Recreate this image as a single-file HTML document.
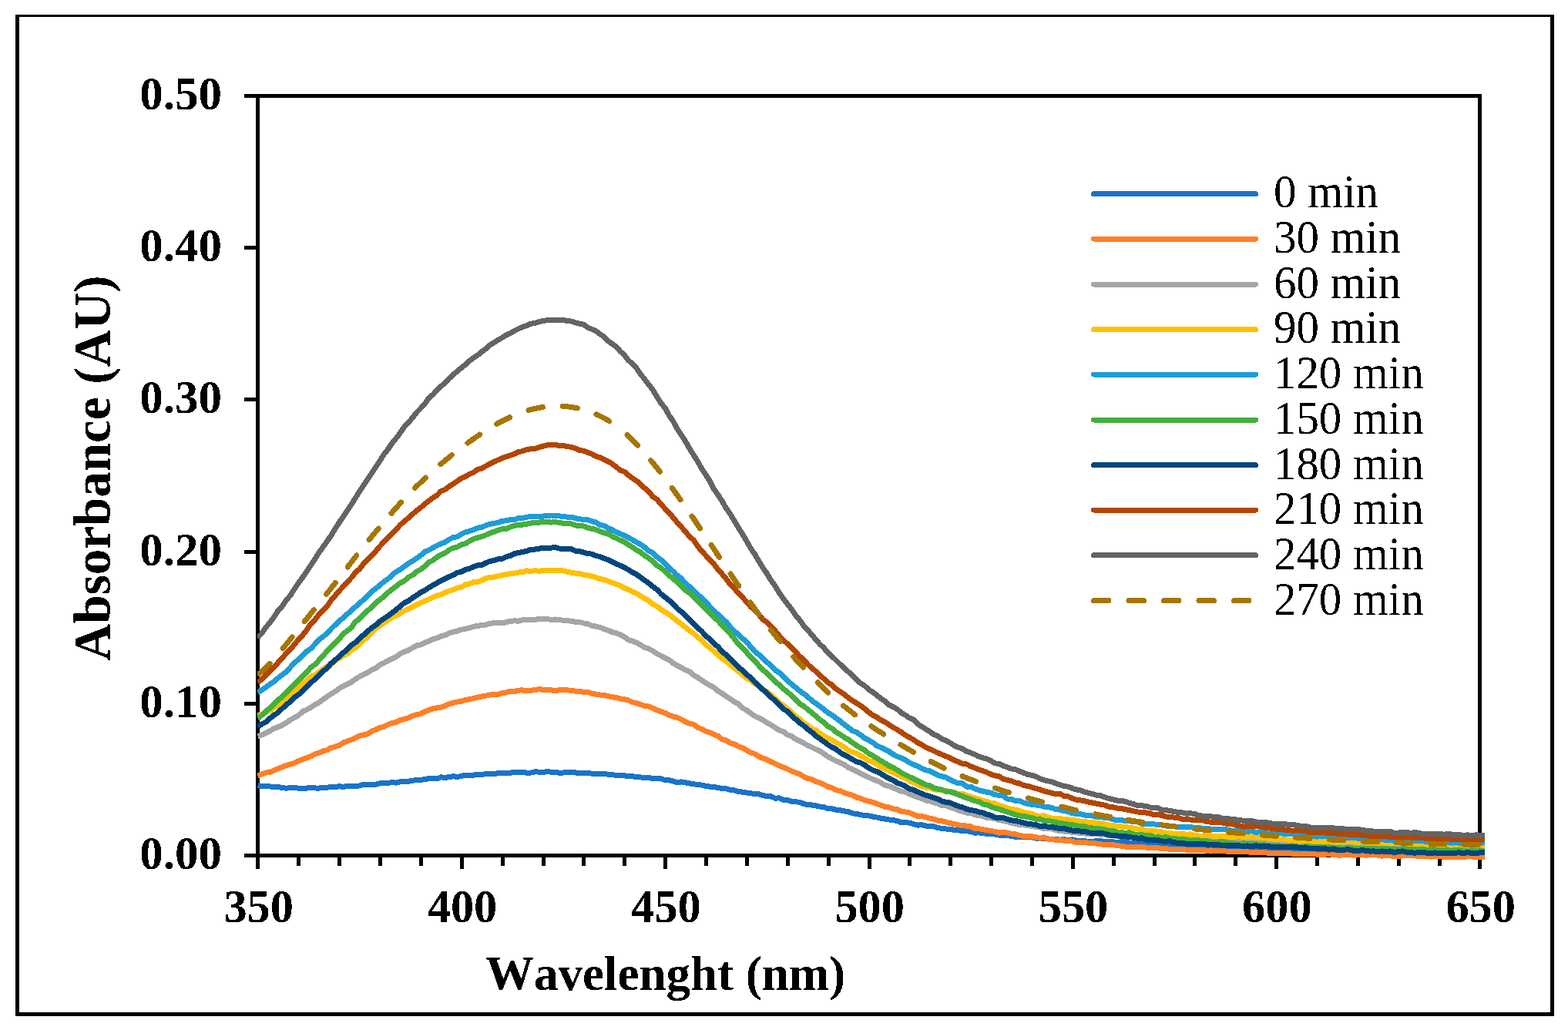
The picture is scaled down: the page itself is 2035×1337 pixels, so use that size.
<!DOCTYPE html>
<html><head><meta charset="utf-8"><title>Absorbance spectra</title>
<style>html,body{margin:0;padding:0;background:#fff;overflow:hidden}svg{display:block}text{font-kerning:none}</style>
</head><body>
<svg width="2035" height="1337" viewBox="0 0 2035 1337">
<rect x="0" y="0" width="2035" height="1337" fill="#fff"/>
<defs><filter id="al" x="-5%" y="-5%" width="110%" height="110%"><feComponentTransfer><feFuncA type="discrete" tableValues="0 1"/></feComponentTransfer></filter><clipPath id="pc"><rect x="334" y="100" width="1593" height="1030"/></clipPath></defs>
<g fill="#000">
<rect x="20" y="19" width="1997" height="3"/>
<rect x="20" y="19" width="5" height="1300"/>
<rect x="2012" y="19" width="5" height="1300"/>
<rect x="20" y="1314" width="1997" height="5"/>
<rect x="332" y="122" width="1591" height="5"/>
<rect x="332" y="122" width="5" height="991"/>
<rect x="1918" y="122" width="5" height="991"/>
<rect x="317" y="1108" width="1606" height="5"/>
<rect x="317" y="1108" width="15" height="5"/>
<rect x="317" y="911" width="15" height="5"/>
<rect x="317" y="714" width="15" height="5"/>
<rect x="317" y="516" width="15" height="5"/>
<rect x="317" y="319" width="15" height="5"/>
<rect x="317" y="122" width="15" height="5"/>
<rect x="332" y="1113" width="5" height="15"/>
<rect x="385" y="1113" width="5" height="11"/>
<rect x="438" y="1113" width="5" height="11"/>
<rect x="491" y="1113" width="5" height="11"/>
<rect x="544" y="1113" width="5" height="11"/>
<rect x="597" y="1113" width="5" height="15"/>
<rect x="650" y="1113" width="5" height="11"/>
<rect x="703" y="1113" width="5" height="11"/>
<rect x="755" y="1113" width="5" height="11"/>
<rect x="808" y="1113" width="5" height="11"/>
<rect x="861" y="1113" width="5" height="15"/>
<rect x="914" y="1113" width="5" height="11"/>
<rect x="967" y="1113" width="5" height="11"/>
<rect x="1020" y="1113" width="5" height="11"/>
<rect x="1073" y="1113" width="5" height="11"/>
<rect x="1126" y="1113" width="5" height="15"/>
<rect x="1178" y="1113" width="5" height="11"/>
<rect x="1231" y="1113" width="5" height="11"/>
<rect x="1284" y="1113" width="5" height="11"/>
<rect x="1337" y="1113" width="5" height="11"/>
<rect x="1390" y="1113" width="5" height="15"/>
<rect x="1443" y="1113" width="5" height="11"/>
<rect x="1496" y="1113" width="5" height="11"/>
<rect x="1548" y="1113" width="5" height="11"/>
<rect x="1601" y="1113" width="5" height="11"/>
<rect x="1654" y="1113" width="5" height="15"/>
<rect x="1707" y="1113" width="5" height="11"/>
<rect x="1760" y="1113" width="5" height="11"/>
<rect x="1813" y="1113" width="5" height="11"/>
<rect x="1866" y="1113" width="5" height="11"/>
<rect x="1918" y="1113" width="5" height="15"/>
</g>
<g fill="none" stroke-width="7.0" stroke-linejoin="round" shape-rendering="crispEdges" clip-path="url(#pc)">
<path d="M334.5,1019.8 L339.8,1020.5 L345.1,1020.7 L350.4,1020.9 L355.6,1021.5 L360.9,1021.6 L366.2,1022.4 L371.5,1023.2 L376.8,1022.5 L382.1,1022.6 L387.4,1023.2 L392.7,1023.2 L397.9,1023.1 L403.2,1022.5 L408.5,1022.9 L413.8,1023.2 L419.1,1022.0 L424.4,1022.3 L429.7,1021.3 L434.9,1021.4 L440.2,1020.8 L445.5,1021.3 L450.8,1020.5 L456.1,1020.9 L461.4,1020.5 L466.7,1019.9 L472.0,1018.3 L477.2,1018.8 L482.5,1018.6 L487.8,1018.2 L493.1,1016.9 L498.4,1016.9 L503.7,1016.2 L509.0,1015.7 L514.2,1016.1 L519.5,1014.6 L524.8,1014.5 L530.1,1014.4 L535.4,1013.1 L540.7,1012.8 L546.0,1012.3 L551.3,1011.7 L556.5,1010.5 L561.8,1010.7 L567.1,1010.8 L572.4,1008.8 L577.7,1009.5 L583.0,1008.6 L588.3,1007.7 L593.5,1008.5 L598.8,1007.5 L604.1,1006.0 L609.4,1006.2 L614.7,1006.1 L620.0,1005.3 L625.3,1005.4 L630.6,1004.7 L635.8,1004.7 L641.1,1004.8 L646.4,1003.5 L651.7,1003.7 L657.0,1003.1 L662.3,1003.2 L667.6,1002.4 L672.8,1002.6 L678.1,1002.6 L683.4,1003.1 L688.7,1003.1 L694.0,1001.8 L699.3,1002.1 L704.6,1002.8 L709.9,1001.4 L715.1,1002.2 L720.4,1002.5 L725.7,1003.2 L731.0,1003.0 L736.3,1002.6 L741.6,1002.7 L746.9,1002.9 L752.1,1004.0 L757.4,1003.2 L762.7,1003.5 L768.0,1004.1 L773.3,1004.2 L778.6,1004.4 L783.9,1004.3 L789.2,1005.2 L794.4,1005.4 L799.7,1006.6 L805.0,1006.7 L810.3,1006.8 L815.6,1007.7 L820.9,1007.6 L826.2,1008.9 L831.4,1008.9 L836.7,1009.7 L842.0,1009.4 L847.3,1010.8 L852.6,1010.4 L857.9,1010.8 L863.2,1012.4 L868.5,1012.7 L873.7,1014.0 L879.0,1015.7 L884.3,1014.9 L889.6,1015.8 L894.9,1016.9 L900.2,1017.9 L905.5,1018.3 L910.7,1019.1 L916.0,1020.4 L921.3,1021.1 L926.6,1021.2 L931.9,1022.6 L937.2,1023.5 L942.5,1023.8 L947.8,1025.4 L953.0,1025.7 L958.3,1027.6 L963.6,1028.1 L968.9,1029.0 L974.2,1029.6 L979.5,1030.8 L984.8,1030.9 L990.0,1032.3 L995.3,1034.0 L1000.6,1033.7 L1005.9,1036.2 L1011.2,1035.9 L1016.5,1038.2 L1021.8,1038.4 L1027.1,1040.2 L1032.3,1040.9 L1037.6,1041.1 L1042.9,1043.5 L1048.2,1044.7 L1053.5,1045.0 L1058.8,1045.9 L1064.1,1047.0 L1069.3,1047.6 L1074.6,1049.7 L1079.9,1049.9 L1085.2,1051.1 L1090.5,1051.8 L1095.8,1052.9 L1101.1,1053.6 L1106.4,1055.9 L1111.6,1056.2 L1116.9,1057.8 L1122.2,1058.3 L1127.5,1058.9 L1132.8,1060.1 L1138.1,1061.0 L1143.4,1062.2 L1148.6,1063.0 L1153.9,1064.0 L1159.2,1064.4 L1164.5,1065.6 L1169.8,1067.8 L1175.1,1067.5 L1180.4,1068.2 L1185.7,1069.8 L1190.9,1071.2 L1196.2,1070.6 L1201.5,1072.0 L1206.8,1072.6 L1212.1,1072.8 L1217.4,1074.8 L1222.7,1075.2 L1227.9,1076.0 L1233.2,1076.3 L1238.5,1077.6 L1243.8,1077.7 L1249.1,1078.6 L1254.4,1078.8 L1259.7,1079.3 L1265.0,1081.2 L1270.2,1080.9 L1275.5,1081.8 L1280.8,1082.2 L1286.1,1082.5 L1291.4,1083.0 L1296.7,1084.1 L1302.0,1084.1 L1307.2,1084.7 L1312.5,1085.2 L1317.8,1086.2 L1323.1,1086.4 L1328.4,1086.7 L1333.7,1086.6 L1339.0,1086.6 L1344.3,1088.1 L1349.5,1088.5 L1354.8,1088.3 L1360.1,1088.9 L1365.4,1089.4 L1370.7,1089.7 L1376.0,1090.1 L1381.3,1089.7 L1386.5,1090.9 L1391.8,1089.8 L1397.1,1091.1 L1402.4,1091.2 L1407.7,1091.7 L1413.0,1092.4 L1418.3,1092.5 L1423.6,1091.4 L1428.8,1091.4 L1434.1,1092.9 L1439.4,1092.2 L1444.7,1092.9 L1450.0,1093.6 L1455.3,1092.6 L1460.6,1092.6 L1465.8,1094.0 L1471.1,1094.2 L1476.4,1094.3 L1481.7,1094.7 L1487.0,1094.5 L1492.3,1094.4 L1497.6,1095.4 L1502.9,1095.2 L1508.1,1095.2 L1513.4,1096.6 L1518.7,1096.6 L1524.0,1097.1 L1529.3,1096.7 L1534.6,1097.2 L1539.9,1097.3 L1545.1,1097.7 L1550.4,1098.6 L1555.7,1098.4 L1561.0,1099.3 L1566.3,1099.6 L1571.6,1100.8 L1576.9,1099.4 L1582.2,1100.8 L1587.4,1100.7 L1592.7,1101.0 L1598.0,1100.6 L1603.3,1101.4 L1608.6,1102.3 L1613.9,1102.2 L1619.2,1102.6 L1624.4,1102.7 L1629.7,1103.7 L1635.0,1103.4 L1640.3,1102.6 L1645.6,1103.6 L1650.9,1103.2 L1656.2,1102.8 L1661.5,1104.4 L1666.7,1105.6 L1672.0,1105.1 L1677.3,1104.7 L1682.6,1105.1 L1687.9,1106.3 L1693.2,1106.0 L1698.5,1106.1 L1703.7,1106.2 L1709.0,1106.4 L1714.3,1107.0 L1719.6,1107.0 L1724.9,1106.9 L1730.2,1106.4 L1735.5,1107.3 L1740.8,1106.9 L1746.0,1107.9 L1751.3,1106.8 L1756.6,1107.5 L1761.9,1107.6 L1767.2,1107.1 L1772.5,1108.7 L1777.8,1108.6 L1783.0,1107.8 L1788.3,1108.4 L1793.6,1108.3 L1798.9,1106.9 L1804.2,1108.4 L1809.5,1108.3 L1814.8,1108.4 L1820.1,1107.9 L1825.3,1108.4 L1830.6,1108.5 L1835.9,1109.2 L1841.2,1108.9 L1846.5,1108.7 L1851.8,1109.6 L1857.1,1108.6 L1862.3,1108.7 L1867.6,1108.0 L1872.9,1109.8 L1878.2,1109.5 L1883.5,1109.6 L1888.8,1109.5 L1894.1,1109.3 L1899.4,1109.4 L1904.6,1109.2 L1909.9,1109.3 L1915.2,1109.5 L1920.5,1110.3 L1925.8,1109.9 L1931.1,1109.9" stroke="#1A73CA"/>
<path d="M334.5,1006.7 L339.8,1004.8 L345.1,1003.0 L350.4,1002.3 L355.6,1000.0 L360.9,997.9 L366.2,995.8 L371.5,993.5 L376.8,992.0 L382.1,990.5 L387.4,987.8 L392.7,985.8 L397.9,983.8 L403.2,981.8 L408.5,978.9 L413.8,977.4 L419.1,974.9 L424.4,973.7 L429.7,970.7 L434.9,969.2 L440.2,967.4 L445.5,964.3 L450.8,962.0 L456.1,960.2 L461.4,957.9 L466.7,955.3 L472.0,953.8 L477.2,952.5 L482.5,949.2 L487.8,947.1 L493.1,944.6 L498.4,943.2 L503.7,940.3 L509.0,938.4 L514.2,937.6 L519.5,934.5 L524.8,933.6 L530.1,931.9 L535.4,929.4 L540.7,927.7 L546.0,926.6 L551.3,923.8 L556.5,921.8 L561.8,919.8 L567.1,918.9 L572.4,918.0 L577.7,916.2 L583.0,913.7 L588.3,912.3 L593.5,911.1 L598.8,910.2 L604.1,908.6 L609.4,907.6 L614.7,906.4 L620.0,905.0 L625.3,904.0 L630.6,903.1 L635.8,902.0 L641.1,901.4 L646.4,901.3 L651.7,899.8 L657.0,898.9 L662.3,897.3 L667.6,897.8 L672.8,896.1 L678.1,895.9 L683.4,896.7 L688.7,896.3 L694.0,895.6 L699.3,894.7 L704.6,895.2 L709.9,895.1 L715.1,895.7 L720.4,896.7 L725.7,895.8 L731.0,895.6 L736.3,895.7 L741.6,896.7 L746.9,897.1 L752.1,897.1 L757.4,898.4 L762.7,898.4 L768.0,900.3 L773.3,901.1 L778.6,902.0 L783.9,902.2 L789.2,903.7 L794.4,904.5 L799.7,905.6 L805.0,906.9 L810.3,907.7 L815.6,909.0 L820.9,911.6 L826.2,912.7 L831.4,914.5 L836.7,916.6 L842.0,917.0 L847.3,919.3 L852.6,921.7 L857.9,923.8 L863.2,925.4 L868.5,928.2 L873.7,930.0 L879.0,931.4 L884.3,933.8 L889.6,937.0 L894.9,939.1 L900.2,940.3 L905.5,944.3 L910.7,946.4 L916.0,949.2 L921.3,950.8 L926.6,953.4 L931.9,955.5 L937.2,959.8 L942.5,961.0 L947.8,964.5 L953.0,965.9 L958.3,968.9 L963.6,970.5 L968.9,973.7 L974.2,977.0 L979.5,978.4 L984.8,982.1 L990.0,984.2 L995.3,986.0 L1000.6,988.8 L1005.9,991.2 L1011.2,993.9 L1016.5,996.0 L1021.8,998.2 L1027.1,1000.8 L1032.3,1002.8 L1037.6,1004.9 L1042.9,1007.8 L1048.2,1010.5 L1053.5,1011.5 L1058.8,1014.5 L1064.1,1016.3 L1069.3,1018.3 L1074.6,1021.3 L1079.9,1022.7 L1085.2,1025.7 L1090.5,1026.6 L1095.8,1029.1 L1101.1,1030.8 L1106.4,1032.4 L1111.6,1034.9 L1116.9,1036.4 L1122.2,1038.6 L1127.5,1040.1 L1132.8,1041.3 L1138.1,1043.5 L1143.4,1045.2 L1148.6,1047.3 L1153.9,1048.0 L1159.2,1050.0 L1164.5,1050.7 L1169.8,1053.4 L1175.1,1054.0 L1180.4,1055.0 L1185.7,1057.3 L1190.9,1059.3 L1196.2,1059.3 L1201.5,1060.8 L1206.8,1062.2 L1212.1,1063.3 L1217.4,1065.3 L1222.7,1065.9 L1227.9,1067.1 L1233.2,1068.8 L1238.5,1069.3 L1243.8,1070.9 L1249.1,1071.3 L1254.4,1072.2 L1259.7,1072.9 L1265.0,1075.7 L1270.2,1075.6 L1275.5,1076.8 L1280.8,1077.6 L1286.1,1078.5 L1291.4,1079.4 L1296.7,1081.1 L1302.0,1080.5 L1307.2,1081.0 L1312.5,1082.1 L1317.8,1082.7 L1323.1,1084.5 L1328.4,1085.3 L1333.7,1085.1 L1339.0,1085.6 L1344.3,1086.8 L1349.5,1088.3 L1354.8,1086.9 L1360.1,1089.2 L1365.4,1089.0 L1370.7,1090.7 L1376.0,1090.2 L1381.3,1091.2 L1386.5,1091.2 L1391.8,1092.0 L1397.1,1093.7 L1402.4,1093.9 L1407.7,1093.8 L1413.0,1094.1 L1418.3,1094.1 L1423.6,1095.3 L1428.8,1095.9 L1434.1,1096.4 L1439.4,1096.8 L1444.7,1096.7 L1450.0,1097.6 L1455.3,1098.1 L1460.6,1099.1 L1465.8,1099.8 L1471.1,1099.1 L1476.4,1099.2 L1481.7,1099.9 L1487.0,1100.0 L1492.3,1100.2 L1497.6,1100.9 L1502.9,1100.7 L1508.1,1101.8 L1513.4,1101.8 L1518.7,1102.2 L1524.0,1102.3 L1529.3,1102.3 L1534.6,1102.4 L1539.9,1103.1 L1545.1,1103.1 L1550.4,1103.8 L1555.7,1103.9 L1561.0,1103.4 L1566.3,1104.4 L1571.6,1103.9 L1576.9,1104.5 L1582.2,1104.8 L1587.4,1104.2 L1592.7,1105.4 L1598.0,1105.7 L1603.3,1105.7 L1608.6,1105.7 L1613.9,1106.0 L1619.2,1105.8 L1624.4,1106.4 L1629.7,1106.4 L1635.0,1106.9 L1640.3,1106.4 L1645.6,1107.3 L1650.9,1107.4 L1656.2,1107.4 L1661.5,1107.4 L1666.7,1108.0 L1672.0,1107.1 L1677.3,1108.3 L1682.6,1108.3 L1687.9,1108.5 L1693.2,1108.6 L1698.5,1108.3 L1703.7,1108.6 L1709.0,1109.1 L1714.3,1109.2 L1719.6,1109.2 L1724.9,1108.4 L1730.2,1109.6 L1735.5,1110.0 L1740.8,1110.0 L1746.0,1109.8 L1751.3,1109.0 L1756.6,1110.3 L1761.9,1109.9 L1767.2,1108.8 L1772.5,1110.3 L1777.8,1109.5 L1783.0,1109.7 L1788.3,1110.1 L1793.6,1111.2 L1798.9,1110.4 L1804.2,1110.9 L1809.5,1111.7 L1814.8,1111.7 L1820.1,1110.9 L1825.3,1111.0 L1830.6,1110.5 L1835.9,1110.9 L1841.2,1111.5 L1846.5,1111.6 L1851.8,1111.6 L1857.1,1112.1 L1862.3,1111.3 L1867.6,1111.7 L1872.9,1112.2 L1878.2,1112.2 L1883.5,1112.5 L1888.8,1112.3 L1894.1,1112.0 L1899.4,1112.4 L1904.6,1111.8 L1909.9,1111.6 L1915.2,1112.8 L1920.5,1112.5 L1925.8,1112.8 L1931.1,1112.8" stroke="#FF7F27"/>
<path d="M334.5,955.5 L339.8,954.0 L345.1,951.5 L350.4,948.9 L355.6,945.6 L360.9,943.7 L366.2,941.4 L371.5,938.1 L376.8,934.5 L382.1,931.5 L387.4,928.6 L392.7,923.5 L397.9,921.4 L403.2,918.3 L408.5,914.9 L413.8,911.9 L419.1,908.1 L424.4,904.3 L429.7,900.8 L434.9,897.7 L440.2,893.7 L445.5,890.7 L450.8,888.0 L456.1,885.4 L461.4,881.3 L466.7,878.3 L472.0,875.4 L477.2,873.0 L482.5,869.4 L487.8,867.2 L493.1,863.1 L498.4,860.5 L503.7,857.6 L509.0,855.2 L514.2,852.4 L519.5,848.4 L524.8,846.0 L530.1,844.0 L535.4,840.9 L540.7,838.0 L546.0,837.0 L551.3,834.4 L556.5,832.2 L561.8,829.6 L567.1,828.3 L572.4,825.8 L577.7,824.6 L583.0,821.8 L588.3,820.2 L593.5,819.2 L598.8,817.2 L604.1,816.5 L609.4,815.0 L614.7,813.2 L620.0,812.6 L625.3,811.3 L630.6,811.0 L635.8,809.4 L641.1,808.6 L646.4,808.7 L651.7,808.6 L657.0,807.8 L662.3,806.3 L667.6,805.9 L672.8,806.1 L678.1,804.9 L683.4,804.2 L688.7,804.5 L694.0,804.4 L699.3,803.6 L704.6,803.2 L709.9,803.3 L715.1,804.5 L720.4,804.0 L725.7,804.6 L731.0,805.2 L736.3,805.9 L741.6,806.1 L746.9,807.3 L752.1,807.5 L757.4,808.9 L762.7,809.8 L768.0,812.2 L773.3,813.1 L778.6,814.4 L783.9,816.3 L789.2,818.3 L794.4,820.7 L799.7,821.6 L805.0,824.1 L810.3,826.7 L815.6,830.6 L820.9,832.2 L826.2,834.2 L831.4,837.3 L836.7,840.6 L842.0,842.2 L847.3,844.9 L852.6,848.6 L857.9,851.1 L863.2,854.2 L868.5,856.6 L873.7,860.9 L879.0,863.9 L884.3,866.5 L889.6,869.8 L894.9,871.7 L900.2,876.4 L905.5,879.3 L910.7,883.0 L916.0,886.6 L921.3,889.6 L926.6,892.5 L931.9,897.0 L937.2,900.1 L942.5,903.8 L947.8,907.3 L953.0,911.0 L958.3,913.6 L963.6,918.9 L968.9,921.9 L974.2,925.8 L979.5,929.6 L984.8,932.0 L990.0,934.4 L995.3,938.1 L1000.6,941.0 L1005.9,944.5 L1011.2,947.7 L1016.5,949.6 L1021.8,953.7 L1027.1,955.6 L1032.3,959.3 L1037.6,961.9 L1042.9,964.6 L1048.2,967.5 L1053.5,970.0 L1058.8,972.7 L1064.1,974.9 L1069.3,978.5 L1074.6,982.3 L1079.9,985.2 L1085.2,987.8 L1090.5,990.3 L1095.8,992.5 L1101.1,996.4 L1106.4,998.5 L1111.6,1001.3 L1116.9,1003.9 L1122.2,1006.7 L1127.5,1009.0 L1132.8,1011.6 L1138.1,1013.4 L1143.4,1016.0 L1148.6,1019.5 L1153.9,1020.5 L1159.2,1022.5 L1164.5,1025.0 L1169.8,1027.1 L1175.1,1028.2 L1180.4,1030.6 L1185.7,1033.1 L1190.9,1034.7 L1196.2,1036.4 L1201.5,1039.0 L1206.8,1039.6 L1212.1,1041.8 L1217.4,1043.2 L1222.7,1045.9 L1227.9,1045.8 L1233.2,1048.0 L1238.5,1049.7 L1243.8,1051.8 L1249.1,1053.2 L1254.4,1055.1 L1259.7,1055.0 L1265.0,1057.6 L1270.2,1058.4 L1275.5,1059.5 L1280.8,1061.4 L1286.1,1061.9 L1291.4,1062.6 L1296.7,1064.6 L1302.0,1065.2 L1307.2,1066.7 L1312.5,1068.3 L1317.8,1069.3 L1323.1,1070.9 L1328.4,1070.9 L1333.7,1071.2 L1339.0,1072.5 L1344.3,1073.3 L1349.5,1073.9 L1354.8,1075.6 L1360.1,1075.8 L1365.4,1075.9 L1370.7,1077.9 L1376.0,1078.2 L1381.3,1079.1 L1386.5,1079.6 L1391.8,1080.4 L1397.1,1080.7 L1402.4,1081.9 L1407.7,1082.0 L1413.0,1082.5 L1418.3,1083.0 L1423.6,1082.5 L1428.8,1083.6 L1434.1,1083.9 L1439.4,1084.6 L1444.7,1084.2 L1450.0,1086.0 L1455.3,1085.6 L1460.6,1085.3 L1465.8,1085.4 L1471.1,1086.4 L1476.4,1086.8 L1481.7,1086.7 L1487.0,1087.4 L1492.3,1087.3 L1497.6,1088.1 L1502.9,1087.7 L1508.1,1088.3 L1513.4,1089.0 L1518.7,1090.0 L1524.0,1088.4 L1529.3,1088.8 L1534.6,1088.8 L1539.9,1089.8 L1545.1,1089.0 L1550.4,1089.5 L1555.7,1089.9 L1561.0,1089.6 L1566.3,1089.8 L1571.6,1090.2 L1576.9,1089.5 L1582.2,1090.0 L1587.4,1090.7 L1592.7,1091.1 L1598.0,1091.1 L1603.3,1090.5 L1608.6,1091.3 L1613.9,1092.1 L1619.2,1092.2 L1624.4,1092.0 L1629.7,1091.8 L1635.0,1092.8 L1640.3,1092.3 L1645.6,1092.2 L1650.9,1092.6 L1656.2,1093.9 L1661.5,1093.5 L1666.7,1094.2 L1672.0,1093.6 L1677.3,1094.5 L1682.6,1093.9 L1687.9,1094.3 L1693.2,1095.9 L1698.5,1095.2 L1703.7,1094.8 L1709.0,1095.2 L1714.3,1095.6 L1719.6,1096.2 L1724.9,1095.6 L1730.2,1095.2 L1735.5,1096.1 L1740.8,1096.4 L1746.0,1096.7 L1751.3,1097.5 L1756.6,1097.2 L1761.9,1097.6 L1767.2,1096.8 L1772.5,1098.0 L1777.8,1098.8 L1783.0,1098.3 L1788.3,1098.2 L1793.6,1098.3 L1798.9,1099.3 L1804.2,1098.1 L1809.5,1098.6 L1814.8,1099.0 L1820.1,1099.3 L1825.3,1098.9 L1830.6,1099.4 L1835.9,1099.2 L1841.2,1099.5 L1846.5,1099.5 L1851.8,1099.1 L1857.1,1099.7 L1862.3,1100.2 L1867.6,1099.4 L1872.9,1099.8 L1878.2,1100.3 L1883.5,1099.5 L1888.8,1100.2 L1894.1,1099.6 L1899.4,1100.7 L1904.6,1101.3 L1909.9,1101.2 L1915.2,1100.1 L1920.5,1100.5 L1925.8,1100.2 L1931.1,1100.2" stroke="#A5A5A5"/>
<path d="M334.5,928.1 L339.8,927.7 L345.1,924.3 L350.4,922.7 L355.6,918.7 L360.9,915.5 L366.2,910.6 L371.5,905.6 L376.8,901.4 L382.1,897.0 L387.4,892.0 L392.7,887.9 L397.9,883.2 L403.2,878.4 L408.5,876.2 L413.8,872.4 L419.1,868.6 L424.4,865.1 L429.7,862.1 L434.9,858.0 L440.2,854.5 L445.5,851.3 L450.8,848.5 L456.1,843.5 L461.4,840.8 L466.7,835.6 L472.0,830.7 L477.2,826.9 L482.5,821.3 L487.8,815.9 L493.1,811.9 L498.4,808.6 L503.7,805.2 L509.0,801.3 L514.2,798.8 L519.5,796.2 L524.8,792.8 L530.1,790.6 L535.4,787.8 L540.7,785.0 L546.0,782.5 L551.3,780.4 L556.5,778.0 L561.8,775.3 L567.1,773.1 L572.4,771.7 L577.7,769.1 L583.0,767.3 L588.3,765.5 L593.5,763.2 L598.8,762.2 L604.1,758.8 L609.4,757.9 L614.7,755.7 L620.0,755.2 L625.3,753.6 L630.6,750.4 L635.8,749.5 L641.1,749.1 L646.4,747.9 L651.7,746.8 L657.0,745.4 L662.3,744.8 L667.6,744.1 L672.8,743.0 L678.1,742.9 L683.4,740.7 L688.7,741.7 L694.0,740.6 L699.3,741.3 L704.6,740.6 L709.9,740.3 L715.1,741.0 L720.4,740.6 L725.7,740.9 L731.0,741.0 L736.3,742.3 L741.6,743.2 L746.9,744.2 L752.1,744.5 L757.4,746.1 L762.7,746.8 L768.0,748.0 L773.3,749.7 L778.6,751.5 L783.9,752.4 L789.2,754.3 L794.4,756.2 L799.7,758.4 L805.0,760.1 L810.3,763.4 L815.6,765.2 L820.9,768.2 L826.2,770.3 L831.4,773.8 L836.7,776.9 L842.0,779.7 L847.3,784.3 L852.6,787.0 L857.9,791.3 L863.2,794.6 L868.5,797.7 L873.7,801.8 L879.0,806.2 L884.3,810.2 L889.6,814.4 L894.9,818.6 L900.2,822.2 L905.5,827.4 L910.7,830.9 L916.0,836.7 L921.3,840.8 L926.6,845.4 L931.9,850.2 L937.2,855.0 L942.5,858.6 L947.8,862.9 L953.0,867.5 L958.3,871.2 L963.6,875.7 L968.9,880.8 L974.2,883.2 L979.5,887.6 L984.8,890.1 L990.0,894.5 L995.3,898.0 L1000.6,902.2 L1005.9,906.8 L1011.2,911.8 L1016.5,915.5 L1021.8,920.1 L1027.1,924.1 L1032.3,929.4 L1037.6,933.3 L1042.9,938.1 L1048.2,941.6 L1053.5,946.2 L1058.8,947.8 L1064.1,951.9 L1069.3,955.6 L1074.6,958.0 L1079.9,960.8 L1085.2,964.0 L1090.5,966.4 L1095.8,970.0 L1101.1,974.1 L1106.4,976.3 L1111.6,978.0 L1116.9,980.9 L1122.2,983.9 L1127.5,987.4 L1132.8,989.2 L1138.1,992.0 L1143.4,995.6 L1148.6,998.3 L1153.9,1000.4 L1159.2,1002.8 L1164.5,1005.2 L1169.8,1008.3 L1175.1,1010.1 L1180.4,1014.0 L1185.7,1015.6 L1190.9,1018.3 L1196.2,1021.0 L1201.5,1022.3 L1206.8,1022.6 L1212.1,1024.8 L1217.4,1025.9 L1222.7,1025.8 L1227.9,1026.5 L1233.2,1027.8 L1238.5,1028.1 L1243.8,1030.8 L1249.1,1030.2 L1254.4,1032.2 L1259.7,1034.1 L1265.0,1035.6 L1270.2,1037.4 L1275.5,1039.1 L1280.8,1040.5 L1286.1,1042.8 L1291.4,1042.9 L1296.7,1045.6 L1302.0,1046.8 L1307.2,1048.8 L1312.5,1050.3 L1317.8,1051.1 L1323.1,1052.6 L1328.4,1054.5 L1333.7,1055.5 L1339.0,1056.1 L1344.3,1058.5 L1349.5,1059.6 L1354.8,1058.7 L1360.1,1060.4 L1365.4,1062.4 L1370.7,1062.3 L1376.0,1062.8 L1381.3,1063.3 L1386.5,1063.9 L1391.8,1064.7 L1397.1,1065.2 L1402.4,1066.5 L1407.7,1066.6 L1413.0,1067.2 L1418.3,1067.5 L1423.6,1068.7 L1428.8,1068.9 L1434.1,1069.9 L1439.4,1071.2 L1444.7,1071.6 L1450.0,1072.4 L1455.3,1073.0 L1460.6,1073.6 L1465.8,1074.3 L1471.1,1075.0 L1476.4,1076.3 L1481.7,1076.1 L1487.0,1078.1 L1492.3,1078.2 L1497.6,1078.5 L1502.9,1079.4 L1508.1,1079.9 L1513.4,1081.0 L1518.7,1081.2 L1524.0,1082.7 L1529.3,1082.3 L1534.6,1082.0 L1539.9,1083.2 L1545.1,1082.9 L1550.4,1084.2 L1555.7,1085.0 L1561.0,1085.0 L1566.3,1084.1 L1571.6,1084.5 L1576.9,1085.9 L1582.2,1085.2 L1587.4,1085.2 L1592.7,1085.8 L1598.0,1086.6 L1603.3,1086.2 L1608.6,1085.8 L1613.9,1086.2 L1619.2,1086.6 L1624.4,1086.3 L1629.7,1086.5 L1635.0,1087.4 L1640.3,1087.3 L1645.6,1088.1 L1650.9,1088.6 L1656.2,1090.2 L1661.5,1089.0 L1666.7,1089.8 L1672.0,1090.2 L1677.3,1090.9 L1682.6,1091.6 L1687.9,1091.2 L1693.2,1091.3 L1698.5,1091.2 L1703.7,1091.8 L1709.0,1092.7 L1714.3,1092.6 L1719.6,1092.2 L1724.9,1092.6 L1730.2,1092.9 L1735.5,1093.1 L1740.8,1092.6 L1746.0,1092.8 L1751.3,1092.1 L1756.6,1092.5 L1761.9,1093.9 L1767.2,1092.1 L1772.5,1093.2 L1777.8,1093.6 L1783.0,1093.5 L1788.3,1093.5 L1793.6,1094.1 L1798.9,1094.3 L1804.2,1094.5 L1809.5,1093.9 L1814.8,1095.0 L1820.1,1094.9 L1825.3,1095.3 L1830.6,1096.0 L1835.9,1096.4 L1841.2,1096.8 L1846.5,1096.3 L1851.8,1097.3 L1857.1,1097.6 L1862.3,1097.8 L1867.6,1098.1 L1872.9,1097.4 L1878.2,1097.5 L1883.5,1098.1 L1888.8,1097.1 L1894.1,1097.9 L1899.4,1097.5 L1904.6,1097.5 L1909.9,1096.7 L1915.2,1096.9 L1920.5,1097.2 L1925.8,1097.3 L1931.1,1097.3" stroke="#FFC000"/>
<path d="M334.5,899.0 L339.8,895.5 L345.1,892.1 L350.4,888.1 L355.6,884.7 L360.9,880.1 L366.2,876.0 L371.5,871.9 L376.8,866.2 L382.1,860.6 L387.4,855.9 L392.7,850.6 L397.9,845.8 L403.2,842.0 L408.5,836.5 L413.8,830.6 L419.1,826.7 L424.4,822.1 L429.7,816.3 L434.9,811.2 L440.2,806.4 L445.5,801.8 L450.8,797.1 L456.1,792.5 L461.4,787.7 L466.7,782.9 L472.0,778.3 L477.2,773.3 L482.5,767.6 L487.8,763.8 L493.1,759.6 L498.4,754.9 L503.7,751.3 L509.0,746.5 L514.2,742.1 L519.5,739.4 L524.8,735.2 L530.1,731.3 L535.4,728.1 L540.7,724.7 L546.0,721.0 L551.3,716.3 L556.5,714.1 L561.8,711.2 L567.1,708.1 L572.4,705.9 L577.7,703.7 L583.0,700.3 L588.3,697.5 L593.5,696.8 L598.8,693.3 L604.1,690.8 L609.4,689.5 L614.7,687.7 L620.0,685.3 L625.3,684.3 L630.6,682.0 L635.8,680.3 L641.1,679.4 L646.4,678.4 L651.7,676.4 L657.0,675.8 L662.3,674.5 L667.6,675.0 L672.8,672.3 L678.1,672.6 L683.4,671.2 L688.7,670.6 L694.0,670.5 L699.3,670.2 L704.6,670.1 L709.9,669.5 L715.1,669.0 L720.4,669.1 L725.7,669.9 L731.0,670.3 L736.3,671.2 L741.6,671.4 L746.9,672.5 L752.1,673.8 L757.4,674.3 L762.7,674.8 L768.0,676.5 L773.3,678.1 L778.6,681.5 L783.9,682.3 L789.2,685.5 L794.4,687.6 L799.7,690.7 L805.0,692.9 L810.3,695.0 L815.6,697.7 L820.9,700.8 L826.2,703.8 L831.4,706.7 L836.7,710.5 L842.0,715.1 L847.3,717.5 L852.6,722.8 L857.9,726.7 L863.2,731.9 L868.5,737.1 L873.7,741.6 L879.0,747.0 L884.3,750.9 L889.6,757.3 L894.9,761.5 L900.2,767.1 L905.5,772.0 L910.7,775.7 L916.0,781.7 L921.3,787.3 L926.6,793.1 L931.9,797.7 L937.2,802.9 L942.5,807.3 L947.8,813.9 L953.0,819.3 L958.3,823.6 L963.6,828.7 L968.9,833.2 L974.2,839.6 L979.5,845.6 L984.8,849.7 L990.0,854.9 L995.3,859.5 L1000.6,863.6 L1005.9,869.6 L1011.2,873.1 L1016.5,878.3 L1021.8,883.1 L1027.1,888.0 L1032.3,892.2 L1037.6,896.6 L1042.9,900.4 L1048.2,904.4 L1053.5,909.3 L1058.8,913.0 L1064.1,916.8 L1069.3,920.8 L1074.6,925.2 L1079.9,928.4 L1085.2,932.4 L1090.5,936.0 L1095.8,940.6 L1101.1,944.3 L1106.4,948.6 L1111.6,950.3 L1116.9,954.1 L1122.2,958.2 L1127.5,960.9 L1132.8,964.0 L1138.1,968.2 L1143.4,970.2 L1148.6,972.8 L1153.9,975.6 L1159.2,979.2 L1164.5,982.0 L1169.8,983.9 L1175.1,986.7 L1180.4,990.0 L1185.7,992.5 L1190.9,994.4 L1196.2,997.4 L1201.5,999.7 L1206.8,1000.8 L1212.1,1003.7 L1217.4,1006.3 L1222.7,1007.9 L1227.9,1009.2 L1233.2,1012.1 L1238.5,1014.6 L1243.8,1016.9 L1249.1,1016.8 L1254.4,1021.1 L1259.7,1021.0 L1265.0,1023.7 L1270.2,1025.6 L1275.5,1027.1 L1280.8,1028.3 L1286.1,1029.2 L1291.4,1031.6 L1296.7,1032.4 L1302.0,1033.0 L1307.2,1037.1 L1312.5,1037.4 L1317.8,1039.4 L1323.1,1039.4 L1328.4,1041.9 L1333.7,1043.2 L1339.0,1044.4 L1344.3,1044.9 L1349.5,1045.5 L1354.8,1047.2 L1360.1,1047.3 L1365.4,1048.7 L1370.7,1050.7 L1376.0,1051.2 L1381.3,1052.7 L1386.5,1053.7 L1391.8,1055.7 L1397.1,1056.4 L1402.4,1056.6 L1407.7,1058.2 L1413.0,1058.1 L1418.3,1059.2 L1423.6,1060.7 L1428.8,1060.4 L1434.1,1061.7 L1439.4,1062.0 L1444.7,1063.5 L1450.0,1065.0 L1455.3,1064.5 L1460.6,1065.7 L1465.8,1065.9 L1471.1,1066.4 L1476.4,1067.0 L1481.7,1069.0 L1487.0,1070.0 L1492.3,1069.7 L1497.6,1069.7 L1502.9,1070.9 L1508.1,1071.0 L1513.4,1072.0 L1518.7,1072.3 L1524.0,1072.8 L1529.3,1073.4 L1534.6,1073.2 L1539.9,1073.8 L1545.1,1073.5 L1550.4,1074.5 L1555.7,1074.4 L1561.0,1075.4 L1566.3,1075.4 L1571.6,1076.2 L1576.9,1076.7 L1582.2,1076.1 L1587.4,1076.8 L1592.7,1077.0 L1598.0,1078.2 L1603.3,1079.0 L1608.6,1078.9 L1613.9,1078.6 L1619.2,1079.8 L1624.4,1078.7 L1629.7,1080.5 L1635.0,1079.8 L1640.3,1079.1 L1645.6,1082.1 L1650.9,1082.0 L1656.2,1081.0 L1661.5,1081.9 L1666.7,1082.1 L1672.0,1082.6 L1677.3,1082.2 L1682.6,1082.9 L1687.9,1083.9 L1693.2,1084.1 L1698.5,1084.9 L1703.7,1084.7 L1709.0,1086.2 L1714.3,1085.0 L1719.6,1085.8 L1724.9,1085.1 L1730.2,1085.7 L1735.5,1087.4 L1740.8,1086.6 L1746.0,1087.6 L1751.3,1087.6 L1756.6,1087.5 L1761.9,1088.1 L1767.2,1088.3 L1772.5,1088.6 L1777.8,1089.6 L1783.0,1089.8 L1788.3,1089.5 L1793.6,1089.6 L1798.9,1090.4 L1804.2,1090.5 L1809.5,1091.3 L1814.8,1092.4 L1820.1,1091.7 L1825.3,1091.5 L1830.6,1091.6 L1835.9,1091.5 L1841.2,1091.7 L1846.5,1091.8 L1851.8,1092.3 L1857.1,1092.4 L1862.3,1093.2 L1867.6,1092.7 L1872.9,1093.0 L1878.2,1092.6 L1883.5,1094.1 L1888.8,1093.6 L1894.1,1094.3 L1899.4,1093.9 L1904.6,1094.3 L1909.9,1093.5 L1915.2,1094.0 L1920.5,1095.0 L1925.8,1093.0 L1931.1,1093.0" stroke="#1E9CD8"/>
<path d="M334.5,932.5 L339.8,928.4 L345.1,923.3 L350.4,918.9 L355.6,914.4 L360.9,908.6 L366.2,904.3 L371.5,898.6 L376.8,893.6 L382.1,888.4 L387.4,883.4 L392.7,878.2 L397.9,873.0 L403.2,866.6 L408.5,862.9 L413.8,857.1 L419.1,851.4 L424.4,845.3 L429.7,840.0 L434.9,834.9 L440.2,829.4 L445.5,822.9 L450.8,818.8 L456.1,814.6 L461.4,806.9 L466.7,803.2 L472.0,797.7 L477.2,792.5 L482.5,788.3 L487.8,782.2 L493.1,778.3 L498.4,774.4 L503.7,769.2 L509.0,764.8 L514.2,761.0 L519.5,756.8 L524.8,754.1 L530.1,749.2 L535.4,746.6 L540.7,741.9 L546.0,739.2 L551.3,735.0 L556.5,729.9 L561.8,727.4 L567.1,723.2 L572.4,720.1 L577.7,718.0 L583.0,713.8 L588.3,711.2 L593.5,710.0 L598.8,707.0 L604.1,705.4 L609.4,702.5 L614.7,699.7 L620.0,698.0 L625.3,696.6 L630.6,694.5 L635.8,692.1 L641.1,690.3 L646.4,688.5 L651.7,686.7 L657.0,686.5 L662.3,684.1 L667.6,682.3 L672.8,681.5 L678.1,681.1 L683.4,680.2 L688.7,679.1 L694.0,678.2 L699.3,678.2 L704.6,677.0 L709.9,677.1 L715.1,678.1 L720.4,677.6 L725.7,678.4 L731.0,679.3 L736.3,679.6 L741.6,680.0 L746.9,682.0 L752.1,682.3 L757.4,683.0 L762.7,685.0 L768.0,686.4 L773.3,687.4 L778.6,689.8 L783.9,691.7 L789.2,692.9 L794.4,696.2 L799.7,698.6 L805.0,701.2 L810.3,703.5 L815.6,707.1 L820.9,710.5 L826.2,713.9 L831.4,716.8 L836.7,721.4 L842.0,724.3 L847.3,728.9 L852.6,733.9 L857.9,737.2 L863.2,741.7 L868.5,747.1 L873.7,751.0 L879.0,755.8 L884.3,760.9 L889.6,766.2 L894.9,769.5 L900.2,775.2 L905.5,780.1 L910.7,785.2 L916.0,790.3 L921.3,795.4 L926.6,801.1 L931.9,805.7 L937.2,811.6 L942.5,817.3 L947.8,822.6 L953.0,829.1 L958.3,836.0 L963.6,841.4 L968.9,846.8 L974.2,852.9 L979.5,858.0 L984.8,863.9 L990.0,869.5 L995.3,873.7 L1000.6,879.0 L1005.9,884.7 L1011.2,888.7 L1016.5,893.9 L1021.8,898.0 L1027.1,902.8 L1032.3,907.5 L1037.6,913.4 L1042.9,916.5 L1048.2,920.8 L1053.5,925.1 L1058.8,929.5 L1064.1,934.1 L1069.3,937.9 L1074.6,942.8 L1079.9,945.8 L1085.2,950.3 L1090.5,953.4 L1095.8,957.3 L1101.1,959.9 L1106.4,964.2 L1111.6,967.7 L1116.9,971.1 L1122.2,973.5 L1127.5,978.4 L1132.8,981.0 L1138.1,984.3 L1143.4,987.6 L1148.6,990.7 L1153.9,994.1 L1159.2,996.4 L1164.5,999.6 L1169.8,1003.1 L1175.1,1005.9 L1180.4,1008.4 L1185.7,1010.9 L1190.9,1013.3 L1196.2,1016.0 L1201.5,1018.9 L1206.8,1019.8 L1212.1,1022.9 L1217.4,1024.2 L1222.7,1025.2 L1227.9,1027.4 L1233.2,1027.9 L1238.5,1029.5 L1243.8,1031.4 L1249.1,1033.7 L1254.4,1035.6 L1259.7,1037.4 L1265.0,1039.7 L1270.2,1040.5 L1275.5,1043.8 L1280.8,1044.7 L1286.1,1047.0 L1291.4,1049.0 L1296.7,1050.4 L1302.0,1052.0 L1307.2,1053.8 L1312.5,1055.8 L1317.8,1057.6 L1323.1,1058.9 L1328.4,1059.3 L1333.7,1060.6 L1339.0,1061.6 L1344.3,1063.3 L1349.5,1063.0 L1354.8,1065.5 L1360.1,1065.5 L1365.4,1066.2 L1370.7,1067.6 L1376.0,1068.7 L1381.3,1069.1 L1386.5,1070.3 L1391.8,1070.6 L1397.1,1072.0 L1402.4,1072.8 L1407.7,1073.0 L1413.0,1074.6 L1418.3,1074.9 L1423.6,1075.7 L1428.8,1076.0 L1434.1,1077.2 L1439.4,1078.5 L1444.7,1078.3 L1450.0,1080.1 L1455.3,1080.7 L1460.6,1081.4 L1465.8,1080.9 L1471.1,1082.6 L1476.4,1083.7 L1481.7,1083.6 L1487.0,1084.7 L1492.3,1084.0 L1497.6,1086.2 L1502.9,1086.1 L1508.1,1087.4 L1513.4,1086.6 L1518.7,1088.4 L1524.0,1088.4 L1529.3,1089.4 L1534.6,1089.0 L1539.9,1089.7 L1545.1,1091.5 L1550.4,1090.4 L1555.7,1090.9 L1561.0,1091.6 L1566.3,1091.6 L1571.6,1093.1 L1576.9,1093.7 L1582.2,1092.9 L1587.4,1092.7 L1592.7,1094.5 L1598.0,1094.8 L1603.3,1095.0 L1608.6,1095.5 L1613.9,1094.8 L1619.2,1095.4 L1624.4,1095.1 L1629.7,1095.4 L1635.0,1096.9 L1640.3,1096.3 L1645.6,1098.0 L1650.9,1097.2 L1656.2,1097.1 L1661.5,1098.1 L1666.7,1098.8 L1672.0,1098.4 L1677.3,1097.8 L1682.6,1098.8 L1687.9,1099.5 L1693.2,1098.8 L1698.5,1098.8 L1703.7,1099.9 L1709.0,1099.7 L1714.3,1099.2 L1719.6,1099.8 L1724.9,1099.8 L1730.2,1100.5 L1735.5,1100.5 L1740.8,1101.2 L1746.0,1101.1 L1751.3,1100.2 L1756.6,1101.3 L1761.9,1101.7 L1767.2,1101.6 L1772.5,1102.0 L1777.8,1101.4 L1783.0,1101.3 L1788.3,1102.4 L1793.6,1101.5 L1798.9,1101.0 L1804.2,1102.7 L1809.5,1102.0 L1814.8,1102.3 L1820.1,1101.9 L1825.3,1102.0 L1830.6,1102.2 L1835.9,1102.7 L1841.2,1103.1 L1846.5,1101.9 L1851.8,1103.5 L1857.1,1102.6 L1862.3,1102.8 L1867.6,1103.7 L1872.9,1103.4 L1878.2,1102.8 L1883.5,1104.6 L1888.8,1103.3 L1894.1,1103.9 L1899.4,1104.0 L1904.6,1104.7 L1909.9,1103.8 L1915.2,1104.6 L1920.5,1103.8 L1925.8,1104.8 L1931.1,1104.8" stroke="#45AF3C"/>
<path d="M334.5,943.3 L339.8,939.8 L345.1,937.2 L350.4,932.4 L355.6,928.2 L360.9,925.0 L366.2,919.8 L371.5,914.7 L376.8,910.9 L382.1,905.3 L387.4,901.7 L392.7,897.0 L397.9,891.3 L403.2,886.4 L408.5,881.9 L413.8,876.9 L419.1,871.4 L424.4,867.3 L429.7,861.1 L434.9,857.0 L440.2,852.1 L445.5,847.4 L450.8,843.0 L456.1,837.5 L461.4,833.8 L466.7,828.8 L472.0,824.1 L477.2,819.3 L482.5,815.0 L487.8,811.4 L493.1,806.5 L498.4,802.9 L503.7,799.3 L509.0,795.3 L514.2,791.6 L519.5,786.8 L524.8,782.6 L530.1,780.0 L535.4,776.0 L540.7,772.9 L546.0,769.0 L551.3,766.3 L556.5,762.9 L561.8,759.8 L567.1,756.7 L572.4,753.8 L577.7,751.0 L583.0,748.5 L588.3,746.4 L593.5,743.3 L598.8,742.3 L604.1,739.4 L609.4,738.0 L614.7,735.7 L620.0,733.9 L625.3,733.4 L630.6,730.7 L635.8,728.6 L641.1,727.3 L646.4,725.8 L651.7,725.4 L657.0,722.7 L662.3,721.3 L667.6,718.6 L672.8,717.6 L678.1,716.3 L683.4,715.6 L688.7,713.3 L694.0,713.1 L699.3,712.3 L704.6,711.2 L709.9,711.4 L715.1,711.2 L720.4,710.2 L725.7,712.0 L731.0,712.4 L736.3,712.5 L741.6,712.8 L746.9,715.1 L752.1,715.5 L757.4,717.1 L762.7,718.6 L768.0,719.1 L773.3,721.4 L778.6,722.6 L783.9,724.7 L789.2,726.7 L794.4,729.0 L799.7,732.0 L805.0,734.1 L810.3,736.7 L815.6,739.6 L820.9,743.0 L826.2,745.7 L831.4,749.4 L836.7,753.3 L842.0,757.0 L847.3,761.3 L852.6,765.3 L857.9,771.0 L863.2,775.2 L868.5,779.5 L873.7,784.0 L879.0,790.0 L884.3,794.0 L889.6,798.9 L894.9,804.2 L900.2,809.3 L905.5,815.0 L910.7,819.5 L916.0,825.7 L921.3,829.4 L926.6,835.3 L931.9,839.6 L937.2,846.1 L942.5,850.1 L947.8,855.3 L953.0,860.9 L958.3,866.1 L963.6,869.9 L968.9,875.3 L974.2,879.8 L979.5,885.5 L984.8,890.3 L990.0,895.1 L995.3,899.9 L1000.6,904.9 L1005.9,909.6 L1011.2,915.0 L1016.5,920.3 L1021.8,923.3 L1027.1,928.9 L1032.3,933.3 L1037.6,938.2 L1042.9,941.9 L1048.2,946.7 L1053.5,950.4 L1058.8,955.4 L1064.1,959.0 L1069.3,962.7 L1074.6,966.7 L1079.9,969.9 L1085.2,972.6 L1090.5,977.0 L1095.8,979.9 L1101.1,982.6 L1106.4,985.9 L1111.6,988.7 L1116.9,990.2 L1122.2,993.0 L1127.5,996.9 L1132.8,999.7 L1138.1,1001.6 L1143.4,1004.4 L1148.6,1007.6 L1153.9,1010.6 L1159.2,1012.8 L1164.5,1016.3 L1169.8,1018.2 L1175.1,1020.6 L1180.4,1024.0 L1185.7,1025.4 L1190.9,1027.8 L1196.2,1030.2 L1201.5,1032.3 L1206.8,1033.6 L1212.1,1035.7 L1217.4,1037.1 L1222.7,1040.1 L1227.9,1041.3 L1233.2,1042.1 L1238.5,1044.4 L1243.8,1046.4 L1249.1,1047.9 L1254.4,1050.2 L1259.7,1051.6 L1265.0,1052.2 L1270.2,1054.0 L1275.5,1054.9 L1280.8,1057.1 L1286.1,1058.5 L1291.4,1061.1 L1296.7,1061.2 L1302.0,1061.4 L1307.2,1063.3 L1312.5,1064.9 L1317.8,1065.3 L1323.1,1066.6 L1328.4,1067.9 L1333.7,1069.3 L1339.0,1069.9 L1344.3,1070.5 L1349.5,1072.2 L1354.8,1072.4 L1360.1,1073.2 L1365.4,1073.5 L1370.7,1074.6 L1376.0,1076.0 L1381.3,1075.6 L1386.5,1077.0 L1391.8,1078.1 L1397.1,1078.2 L1402.4,1079.1 L1407.7,1079.1 L1413.0,1080.9 L1418.3,1081.4 L1423.6,1081.6 L1428.8,1081.2 L1434.1,1082.2 L1439.4,1083.8 L1444.7,1084.8 L1450.0,1084.8 L1455.3,1085.9 L1460.6,1085.7 L1465.8,1086.6 L1471.1,1087.3 L1476.4,1088.2 L1481.7,1087.9 L1487.0,1089.8 L1492.3,1090.6 L1497.6,1090.0 L1502.9,1090.6 L1508.1,1092.0 L1513.4,1092.1 L1518.7,1091.8 L1524.0,1093.9 L1529.3,1094.1 L1534.6,1094.2 L1539.9,1095.9 L1545.1,1095.3 L1550.4,1095.2 L1555.7,1096.0 L1561.0,1095.7 L1566.3,1096.0 L1571.6,1096.8 L1576.9,1096.5 L1582.2,1096.7 L1587.4,1097.9 L1592.7,1097.6 L1598.0,1097.7 L1603.3,1097.7 L1608.6,1097.8 L1613.9,1098.5 L1619.2,1097.9 L1624.4,1099.0 L1629.7,1097.8 L1635.0,1098.3 L1640.3,1098.0 L1645.6,1098.7 L1650.9,1099.3 L1656.2,1100.0 L1661.5,1099.1 L1666.7,1099.7 L1672.0,1099.7 L1677.3,1099.8 L1682.6,1099.8 L1687.9,1100.6 L1693.2,1100.0 L1698.5,1101.1 L1703.7,1101.3 L1709.0,1101.2 L1714.3,1101.3 L1719.6,1101.3 L1724.9,1103.2 L1730.2,1101.8 L1735.5,1103.5 L1740.8,1103.3 L1746.0,1103.0 L1751.3,1102.9 L1756.6,1104.2 L1761.9,1104.8 L1767.2,1103.7 L1772.5,1104.2 L1777.8,1105.1 L1783.0,1104.9 L1788.3,1106.0 L1793.6,1104.9 L1798.9,1105.6 L1804.2,1104.9 L1809.5,1106.7 L1814.8,1105.5 L1820.1,1104.9 L1825.3,1106.1 L1830.6,1106.3 L1835.9,1107.4 L1841.2,1106.4 L1846.5,1106.7 L1851.8,1107.1 L1857.1,1107.7 L1862.3,1106.9 L1867.6,1107.5 L1872.9,1107.3 L1878.2,1107.0 L1883.5,1107.2 L1888.8,1107.2 L1894.1,1106.7 L1899.4,1107.7 L1904.6,1106.4 L1909.9,1107.6 L1915.2,1107.5 L1920.5,1106.9 L1925.8,1106.4 L1931.1,1106.4" stroke="#03467D"/>
<path d="M334.5,886.1 L339.8,881.7 L345.1,876.8 L350.4,871.4 L355.6,866.3 L360.9,860.0 L366.2,854.6 L371.5,847.8 L376.8,843.0 L382.1,836.6 L387.4,830.1 L392.7,824.6 L397.9,818.0 L403.2,809.9 L408.5,804.9 L413.8,797.8 L419.1,792.7 L424.4,787.0 L429.7,779.2 L434.9,773.3 L440.2,767.0 L445.5,761.3 L450.8,755.4 L456.1,749.9 L461.4,742.9 L466.7,738.5 L472.0,731.5 L477.2,726.4 L482.5,721.2 L487.8,715.4 L493.1,708.9 L498.4,703.4 L503.7,697.9 L509.0,692.5 L514.2,687.7 L519.5,681.2 L524.8,677.0 L530.1,672.1 L535.4,667.4 L540.7,662.8 L546.0,658.9 L551.3,654.2 L556.5,650.3 L561.8,646.2 L567.1,643.0 L572.4,637.5 L577.7,635.5 L583.0,631.3 L588.3,628.0 L593.5,624.4 L598.8,620.8 L604.1,618.5 L609.4,615.4 L614.7,613.1 L620.0,609.3 L625.3,608.1 L630.6,604.9 L635.8,602.1 L641.1,599.5 L646.4,597.1 L651.7,594.7 L657.0,592.9 L662.3,591.2 L667.6,589.2 L672.8,586.7 L678.1,585.6 L683.4,583.7 L688.7,582.8 L694.0,582.4 L699.3,580.6 L704.6,579.3 L709.9,577.9 L715.1,577.6 L720.4,577.3 L725.7,578.7 L731.0,578.4 L736.3,579.6 L741.6,580.4 L746.9,582.1 L752.1,584.4 L757.4,585.2 L762.7,587.3 L768.0,589.2 L773.3,592.3 L778.6,593.8 L783.9,596.4 L789.2,599.0 L794.4,602.0 L799.7,606.1 L805.0,610.5 L810.3,612.3 L815.6,617.0 L820.9,620.7 L826.2,624.2 L831.4,629.0 L836.7,633.7 L842.0,638.3 L847.3,644.7 L852.6,648.1 L857.9,654.7 L863.2,660.3 L868.5,665.7 L873.7,672.0 L879.0,678.3 L884.3,684.0 L889.6,690.2 L894.9,696.4 L900.2,701.1 L905.5,708.9 L910.7,715.5 L916.0,721.0 L921.3,727.2 L926.6,732.3 L931.9,739.2 L937.2,745.1 L942.5,751.5 L947.8,758.5 L953.0,763.7 L958.3,770.0 L963.6,775.0 L968.9,781.6 L974.2,787.3 L979.5,792.3 L984.8,797.6 L990.0,804.1 L995.3,807.9 L1000.6,813.3 L1005.9,818.8 L1011.2,825.1 L1016.5,831.0 L1021.8,835.5 L1027.1,840.3 L1032.3,845.8 L1037.6,851.8 L1042.9,856.0 L1048.2,862.3 L1053.5,867.2 L1058.8,871.4 L1064.1,876.5 L1069.3,881.2 L1074.6,886.1 L1079.9,889.1 L1085.2,894.4 L1090.5,897.7 L1095.8,901.5 L1101.1,905.8 L1106.4,909.4 L1111.6,912.7 L1116.9,916.0 L1122.2,919.9 L1127.5,924.6 L1132.8,928.3 L1138.1,931.0 L1143.4,934.7 L1148.6,937.2 L1153.9,940.8 L1159.2,944.4 L1164.5,947.1 L1169.8,950.5 L1175.1,954.3 L1180.4,957.3 L1185.7,960.1 L1190.9,964.0 L1196.2,966.6 L1201.5,970.1 L1206.8,972.3 L1212.1,974.8 L1217.4,977.4 L1222.7,979.6 L1227.9,981.7 L1233.2,984.0 L1238.5,986.8 L1243.8,988.9 L1249.1,991.3 L1254.4,992.0 L1259.7,994.7 L1265.0,996.7 L1270.2,999.0 L1275.5,1000.7 L1280.8,1002.6 L1286.1,1005.2 L1291.4,1006.7 L1296.7,1007.9 L1302.0,1011.0 L1307.2,1012.6 L1312.5,1013.6 L1317.8,1016.0 L1323.1,1016.9 L1328.4,1019.5 L1333.7,1020.4 L1339.0,1021.7 L1344.3,1023.5 L1349.5,1024.8 L1354.8,1026.8 L1360.1,1028.2 L1365.4,1029.6 L1370.7,1030.7 L1376.0,1030.5 L1381.3,1033.7 L1386.5,1034.0 L1391.8,1036.4 L1397.1,1038.1 L1402.4,1038.9 L1407.7,1039.8 L1413.0,1041.1 L1418.3,1042.2 L1423.6,1043.2 L1428.8,1044.3 L1434.1,1045.2 L1439.4,1047.3 L1444.7,1047.7 L1450.0,1049.2 L1455.3,1049.6 L1460.6,1050.7 L1465.8,1051.6 L1471.1,1052.8 L1476.4,1053.9 L1481.7,1054.5 L1487.0,1054.9 L1492.3,1055.7 L1497.6,1057.8 L1502.9,1057.6 L1508.1,1058.4 L1513.4,1060.1 L1518.7,1060.7 L1524.0,1061.1 L1529.3,1061.4 L1534.6,1063.5 L1539.9,1063.2 L1545.1,1064.0 L1550.4,1064.3 L1555.7,1064.3 L1561.0,1065.0 L1566.3,1066.6 L1571.6,1067.2 L1576.9,1067.5 L1582.2,1067.6 L1587.4,1068.1 L1592.7,1069.2 L1598.0,1069.2 L1603.3,1071.0 L1608.6,1071.7 L1613.9,1073.1 L1619.2,1072.6 L1624.4,1072.4 L1629.7,1072.8 L1635.0,1072.1 L1640.3,1074.0 L1645.6,1074.7 L1650.9,1075.8 L1656.2,1076.1 L1661.5,1076.6 L1666.7,1076.9 L1672.0,1077.5 L1677.3,1078.4 L1682.6,1077.6 L1687.9,1078.3 L1693.2,1078.3 L1698.5,1080.2 L1703.7,1080.5 L1709.0,1080.6 L1714.3,1080.0 L1719.6,1081.1 L1724.9,1081.3 L1730.2,1081.8 L1735.5,1082.1 L1740.8,1082.8 L1746.0,1082.7 L1751.3,1083.6 L1756.6,1083.7 L1761.9,1083.7 L1767.2,1084.1 L1772.5,1084.3 L1777.8,1085.2 L1783.0,1085.0 L1788.3,1085.6 L1793.6,1085.5 L1798.9,1085.2 L1804.2,1086.7 L1809.5,1086.0 L1814.8,1087.1 L1820.1,1087.2 L1825.3,1086.4 L1830.6,1087.0 L1835.9,1087.4 L1841.2,1087.5 L1846.5,1087.5 L1851.8,1088.7 L1857.1,1088.4 L1862.3,1088.9 L1867.6,1088.6 L1872.9,1089.2 L1878.2,1088.8 L1883.5,1089.3 L1888.8,1089.8 L1894.1,1089.7 L1899.4,1089.5 L1904.6,1089.3 L1909.9,1090.1 L1915.2,1090.3 L1920.5,1090.1 L1925.8,1089.9 L1931.1,1089.9" stroke="#B34600"/>
<path d="M334.5,827.6 L339.8,822.2 L345.1,814.3 L350.4,807.9 L355.6,801.1 L360.9,792.6 L366.2,786.9 L371.5,779.2 L376.8,772.9 L382.1,764.6 L387.4,756.8 L392.7,749.5 L397.9,741.9 L403.2,733.8 L408.5,726.2 L413.8,717.6 L419.1,710.2 L424.4,702.7 L429.7,695.2 L434.9,686.5 L440.2,678.2 L445.5,670.5 L450.8,662.4 L456.1,654.6 L461.4,646.2 L466.7,637.6 L472.0,629.8 L477.2,621.8 L482.5,614.0 L487.8,606.1 L493.1,598.0 L498.4,589.7 L503.7,583.0 L509.0,575.0 L514.2,568.8 L519.5,561.7 L524.8,554.0 L530.1,548.5 L535.4,542.1 L540.7,535.3 L546.0,530.0 L551.3,524.1 L556.5,516.7 L561.8,512.3 L567.1,506.6 L572.4,501.4 L577.7,496.7 L583.0,491.0 L588.3,486.4 L593.5,481.8 L598.8,477.4 L604.1,473.3 L609.4,468.3 L614.7,464.3 L620.0,460.9 L625.3,456.5 L630.6,452.8 L635.8,447.9 L641.1,444.8 L646.4,441.4 L651.7,438.3 L657.0,434.9 L662.3,432.6 L667.6,429.4 L672.8,426.8 L678.1,424.5 L683.4,422.7 L688.7,420.3 L694.0,419.5 L699.3,417.8 L704.6,416.5 L709.9,415.7 L715.1,415.4 L720.4,415.4 L725.7,415.4 L731.0,415.5 L736.3,416.5 L741.6,417.1 L746.9,419.0 L752.1,420.1 L757.4,421.1 L762.7,425.2 L768.0,427.3 L773.3,429.7 L778.6,433.7 L783.9,437.1 L789.2,442.7 L794.4,446.3 L799.7,450.0 L805.0,456.1 L810.3,461.0 L815.6,467.8 L820.9,472.3 L826.2,478.0 L831.4,485.7 L836.7,492.4 L842.0,499.5 L847.3,506.0 L852.6,515.0 L857.9,523.4 L863.2,529.7 L868.5,539.4 L873.7,546.9 L879.0,556.9 L884.3,564.5 L889.6,572.9 L894.9,582.2 L900.2,590.7 L905.5,598.9 L910.7,608.3 L916.0,616.4 L921.3,624.4 L926.6,634.9 L931.9,642.3 L937.2,650.7 L942.5,659.7 L947.8,667.3 L953.0,675.9 L958.3,684.9 L963.6,693.4 L968.9,702.3 L974.2,711.5 L979.5,719.3 L984.8,728.3 L990.0,736.9 L995.3,744.4 L1000.6,753.2 L1005.9,760.6 L1011.2,769.4 L1016.5,776.8 L1021.8,784.0 L1027.1,790.5 L1032.3,798.3 L1037.6,804.6 L1042.9,812.0 L1048.2,817.9 L1053.5,823.7 L1058.8,830.5 L1064.1,836.2 L1069.3,841.1 L1074.6,847.4 L1079.9,852.0 L1085.2,857.2 L1090.5,862.5 L1095.8,867.1 L1101.1,872.1 L1106.4,876.9 L1111.6,882.3 L1116.9,886.8 L1122.2,890.2 L1127.5,895.3 L1132.8,898.5 L1138.1,902.6 L1143.4,906.7 L1148.6,910.2 L1153.9,915.0 L1159.2,917.6 L1164.5,920.6 L1169.8,925.5 L1175.1,928.3 L1180.4,932.0 L1185.7,934.2 L1190.9,939.7 L1196.2,943.1 L1201.5,946.4 L1206.8,949.8 L1212.1,953.4 L1217.4,955.7 L1222.7,959.3 L1227.9,961.4 L1233.2,964.4 L1238.5,967.9 L1243.8,970.2 L1249.1,971.9 L1254.4,975.2 L1259.7,977.2 L1265.0,979.2 L1270.2,982.0 L1275.5,983.8 L1280.8,985.2 L1286.1,987.5 L1291.4,990.9 L1296.7,991.2 L1302.0,994.0 L1307.2,996.0 L1312.5,997.9 L1317.8,998.8 L1323.1,1001.1 L1328.4,1003.2 L1333.7,1005.3 L1339.0,1006.3 L1344.3,1007.8 L1349.5,1010.7 L1354.8,1012.5 L1360.1,1013.8 L1365.4,1015.0 L1370.7,1017.2 L1376.0,1018.7 L1381.3,1020.6 L1386.5,1021.2 L1391.8,1023.4 L1397.1,1024.9 L1402.4,1025.9 L1407.7,1028.1 L1413.0,1029.4 L1418.3,1030.6 L1423.6,1032.4 L1428.8,1032.9 L1434.1,1034.9 L1439.4,1036.5 L1444.7,1037.7 L1450.0,1039.3 L1455.3,1039.4 L1460.6,1040.4 L1465.8,1042.4 L1471.1,1043.7 L1476.4,1045.6 L1481.7,1045.9 L1487.0,1046.2 L1492.3,1048.0 L1497.6,1048.2 L1502.9,1048.8 L1508.1,1051.8 L1513.4,1051.5 L1518.7,1052.6 L1524.0,1053.4 L1529.3,1054.8 L1534.6,1054.9 L1539.9,1056.1 L1545.1,1055.8 L1550.4,1056.3 L1555.7,1058.5 L1561.0,1059.2 L1566.3,1059.4 L1571.6,1059.9 L1576.9,1060.6 L1582.2,1060.8 L1587.4,1062.6 L1592.7,1062.7 L1598.0,1063.3 L1603.3,1063.8 L1608.6,1064.8 L1613.9,1065.1 L1619.2,1065.8 L1624.4,1065.4 L1629.7,1066.8 L1635.0,1068.1 L1640.3,1067.3 L1645.6,1068.0 L1650.9,1069.1 L1656.2,1069.6 L1661.5,1069.9 L1666.7,1069.3 L1672.0,1070.8 L1677.3,1070.5 L1682.6,1071.1 L1687.9,1072.3 L1693.2,1072.3 L1698.5,1073.3 L1703.7,1074.9 L1709.0,1074.1 L1714.3,1074.5 L1719.6,1074.1 L1724.9,1074.6 L1730.2,1074.8 L1735.5,1075.4 L1740.8,1075.5 L1746.0,1076.1 L1751.3,1076.7 L1756.6,1076.6 L1761.9,1076.7 L1767.2,1077.1 L1772.5,1078.3 L1777.8,1078.4 L1783.0,1079.2 L1788.3,1079.6 L1793.6,1079.2 L1798.9,1079.9 L1804.2,1079.2 L1809.5,1081.3 L1814.8,1081.0 L1820.1,1080.6 L1825.3,1080.4 L1830.6,1081.4 L1835.9,1080.5 L1841.2,1081.3 L1846.5,1082.3 L1851.8,1082.2 L1857.1,1082.1 L1862.3,1083.0 L1867.6,1082.3 L1872.9,1083.1 L1878.2,1082.9 L1883.5,1082.9 L1888.8,1083.8 L1894.1,1083.2 L1899.4,1084.8 L1904.6,1083.8 L1909.9,1085.2 L1915.2,1083.8 L1920.5,1084.8 L1925.8,1084.1 L1931.1,1084.1" stroke="#646464"/>
<path d="M334.5,876.1 L339.8,871.4 L345.1,866.4 L350.4,860.9 L355.6,855.2 L360.9,849.1 L366.2,842.8 L371.5,836.4 L376.8,829.8 L382.1,823.1 L387.4,816.5 L392.7,809.8 L397.9,803.2 L403.2,796.6 L408.5,790.1 L413.8,783.5 L419.1,776.9 L424.4,770.3 L429.7,763.6 L434.9,756.9 L440.2,750.2 L445.5,743.4 L450.8,736.5 L456.1,729.6 L461.4,722.8 L466.7,716.1 L472.0,709.5 L477.2,702.9 L482.5,696.5 L487.8,690.1 L493.1,683.8 L498.4,677.5 L503.7,671.3 L509.0,665.1 L514.2,659.1 L519.5,653.3 L524.8,647.5 L530.1,641.9 L535.4,636.5 L540.7,631.2 L546.0,626.1 L551.3,621.1 L556.5,616.2 L561.8,611.4 L567.1,606.7 L572.4,602.2 L577.7,597.8 L583.0,593.4 L588.3,589.2 L593.5,585.1 L598.8,581.0 L604.1,577.1 L609.4,573.2 L614.7,569.5 L620.0,565.8 L625.3,562.3 L630.6,558.8 L635.8,555.6 L641.1,552.4 L646.4,549.4 L651.7,546.6 L657.0,543.9 L662.3,541.4 L667.6,539.1 L672.8,537.0 L678.1,535.0 L683.4,533.3 L688.7,531.8 L694.0,530.5 L699.3,529.4 L704.6,528.5 L709.9,527.8 L715.1,527.4 L720.4,527.2 L725.7,527.1 L731.0,527.4 L736.3,527.8 L741.6,528.5 L746.9,529.4 L752.1,530.5 L757.4,531.9 L762.7,533.5 L768.0,535.4 L773.3,537.6 L778.6,540.0 L783.9,542.7 L789.2,545.7 L794.4,549.1 L799.7,552.7" stroke="#A77600" stroke-dasharray="19.00 26.00" stroke-dashoffset="42.50" stroke-linecap="round"/>
<path d="M799.7,552.7 L805.0,556.8 L810.3,561.2 L815.6,565.9 L820.9,571.0 L826.2,576.5 L831.4,582.2 L836.7,588.2 L842.0,594.4 L847.3,600.8 L852.6,607.4 L857.9,614.1 L863.2,621.1 L868.5,628.2 L873.7,635.4 L879.0,642.8 L884.3,650.3 L889.6,657.9 L894.9,665.6 L900.2,673.3 L905.5,681.2 L910.7,689.0 L916.0,697.0 L921.3,704.9 L926.6,712.8 L931.9,720.8 L937.2,728.7 L942.5,736.6 L947.8,744.5 L953.0,752.3 L958.3,760.0 L963.6,767.7 L968.9,775.2 L974.2,782.7 L979.5,790.0 L984.8,797.2 L990.0,804.3 L995.3,811.2 L1000.6,818.0 L1005.9,824.6 L1011.2,831.0 L1016.5,837.3 L1021.8,843.4 L1027.1,849.5 L1032.3,855.4 L1037.6,861.2 L1042.9,866.9 L1048.2,872.4" stroke="#A77600" stroke-dasharray="19.00 26.00" stroke-dashoffset="26.25" stroke-linecap="round"/>
<path d="M1048.2,872.4 L1053.5,878.0 L1058.8,883.4 L1064.1,888.6 L1069.3,893.8 L1074.6,898.8 L1079.9,903.6 L1085.2,908.2 L1090.5,912.7 L1095.8,917.0 L1101.1,921.2 L1106.4,925.3 L1111.6,929.3 L1116.9,933.1 L1122.2,936.8 L1127.5,940.5 L1132.8,944.0 L1138.1,947.5 L1143.4,950.9 L1148.6,954.3 L1153.9,957.6 L1159.2,960.8 L1164.5,964.1 L1169.8,967.2 L1175.1,970.3 L1180.4,973.4 L1185.7,976.4 L1190.9,979.4 L1196.2,982.3 L1201.5,985.2 L1206.8,987.9 L1212.1,990.7 L1217.4,993.3 L1222.7,995.9 L1227.9,998.4 L1233.2,1000.8 L1238.5,1003.2 L1243.8,1005.4 L1249.1,1007.6 L1254.4,1009.8 L1259.7,1011.8 L1265.0,1013.8 L1270.2,1015.8 L1275.5,1017.7 L1280.8,1019.5 L1286.1,1021.3 L1291.4,1023.1 L1296.7,1024.8 L1302.0,1026.4 L1307.2,1028.1 L1312.5,1029.7 L1317.8,1031.3 L1323.1,1032.8 L1328.4,1034.3 L1333.7,1035.8 L1339.0,1037.3 L1344.3,1038.7 L1349.5,1040.1 L1354.8,1041.5 L1360.1,1042.9 L1365.4,1044.2 L1370.7,1045.5 L1376.0,1046.8 L1381.3,1048.0 L1386.5,1049.3 L1391.8,1050.5 L1397.1,1051.7 L1402.4,1052.8 L1407.7,1053.9 L1413.0,1055.0 L1418.3,1056.1 L1423.6,1057.2 L1428.8,1058.2 L1434.1,1059.2 L1439.4,1060.2 L1444.7,1061.1 L1450.0,1062.1" stroke="#A77600" stroke-dasharray="19.00 26.00" stroke-dashoffset="26.25" stroke-linecap="round"/>
<path d="M1450.0,1062.1 L1455.3,1063.0 L1460.6,1063.8 L1465.8,1064.7 L1471.1,1065.5 L1476.4,1066.4 L1481.7,1067.2 L1487.0,1067.9 L1492.3,1068.7 L1497.6,1069.4 L1502.9,1070.2 L1508.1,1070.9 L1513.4,1071.5 L1518.7,1072.2 L1524.0,1072.9 L1529.3,1073.5 L1534.6,1074.1 L1539.9,1074.7 L1545.1,1075.3 L1550.4,1075.9 L1555.7,1076.5 L1561.0,1077.0 L1566.3,1077.5 L1571.6,1078.1 L1576.9,1078.6 L1582.2,1079.1 L1587.4,1079.6 L1592.7,1080.1 L1598.0,1080.6 L1603.3,1081.0 L1608.6,1081.5 L1613.9,1081.9 L1619.2,1082.4 L1624.4,1082.8 L1629.7,1083.3 L1635.0,1083.7 L1640.3,1084.1 L1645.6,1084.5 L1650.9,1084.9 L1656.2,1085.3 L1661.5,1085.7 L1666.7,1086.1 L1672.0,1086.4 L1677.3,1086.8 L1682.6,1087.2 L1687.9,1087.5 L1693.2,1087.9 L1698.5,1088.2 L1703.7,1088.5 L1709.0,1088.8 L1714.3,1089.2 L1719.6,1089.5 L1724.9,1089.8 L1730.2,1090.1 L1735.5,1090.3 L1740.8,1090.6 L1746.0,1090.9 L1751.3,1091.2 L1756.6,1091.4 L1761.9,1091.7 L1767.2,1091.9 L1772.5,1092.2 L1777.8,1092.4 L1783.0,1092.6 L1788.3,1092.9 L1793.6,1093.1 L1798.9,1093.3 L1804.2,1093.5 L1809.5,1093.7 L1814.8,1093.9 L1820.1,1094.1 L1825.3,1094.2 L1830.6,1094.4 L1835.9,1094.6 L1841.2,1094.7 L1846.5,1094.9 L1851.8,1095.0 L1857.1,1095.2 L1862.3,1095.3 L1867.6,1095.4 L1872.9,1095.6 L1878.2,1095.7 L1883.5,1095.8 L1888.8,1095.9 L1894.1,1096.0 L1899.4,1096.1 L1904.6,1096.2 L1909.9,1096.3 L1915.2,1096.3 L1920.5,1096.4 L1925.8,1096.5 L1931.1,1096.5" stroke="#A77600" stroke-dasharray="18.45 25.25" stroke-dashoffset="29.00" stroke-linecap="round"/>
</g>
<g filter="url(#al)">
<g font-family="Liberation Serif, serif" font-weight="bold" font-size="61" fill="#000" text-anchor="end">
<text x="288" y="1128.0">0.00</text>
<text x="288" y="930.8">0.10</text>
<text x="288" y="733.6">0.20</text>
<text x="288" y="536.4">0.30</text>
<text x="288" y="339.2">0.40</text>
<text x="288" y="142.0">0.50</text>
</g>
<g font-family="Liberation Serif, serif" font-weight="bold" font-size="62" fill="#000" text-anchor="middle">
<text transform="translate(335.7,1197) scale(0.975,1)">350</text>
<text transform="translate(600.0,1197) scale(0.975,1)">400</text>
<text transform="translate(864.4,1197) scale(0.975,1)">450</text>
<text transform="translate(1128.7,1197) scale(0.975,1)">500</text>
<text transform="translate(1393.0,1197) scale(0.975,1)">550</text>
<text transform="translate(1657.4,1197) scale(0.975,1)">600</text>
<text transform="translate(1921.7,1197) scale(0.975,1)">650</text>
</g>
<text font-family="Liberation Serif, serif" font-weight="bold" font-size="63" x="630" y="1285">Wavelenght (nm)</text>
<text font-family="Liberation Serif, serif" font-weight="bold" font-size="67" transform="translate(142.5,858) rotate(-90)" x="0" y="0">Absorbance (AU)</text>
</g>
<g shape-rendering="crispEdges">
<line x1="1419.5" y1="251.50" x2="1629.5" y2="251.50" stroke="#1A73CA" stroke-width="7.0" stroke-linecap="round"/>
<line x1="1419.5" y1="310.00" x2="1629.5" y2="310.00" stroke="#FF7F27" stroke-width="7.0" stroke-linecap="round"/>
<line x1="1419.5" y1="369.00" x2="1629.5" y2="369.00" stroke="#A5A5A5" stroke-width="7.0" stroke-linecap="round"/>
<line x1="1419.5" y1="427.50" x2="1629.5" y2="427.50" stroke="#FFC000" stroke-width="7.0" stroke-linecap="round"/>
<line x1="1419.5" y1="486.00" x2="1629.5" y2="486.00" stroke="#1E9CD8" stroke-width="7.0" stroke-linecap="round"/>
<line x1="1419.5" y1="545.00" x2="1629.5" y2="545.00" stroke="#45AF3C" stroke-width="7.0" stroke-linecap="round"/>
<line x1="1419.5" y1="603.50" x2="1629.5" y2="603.50" stroke="#03467D" stroke-width="7.0" stroke-linecap="round"/>
<line x1="1419.5" y1="662.00" x2="1629.5" y2="662.00" stroke="#B34600" stroke-width="7.0" stroke-linecap="round"/>
<line x1="1419.5" y1="720.50" x2="1629.5" y2="720.50" stroke="#646464" stroke-width="7.0" stroke-linecap="round"/>
<line x1="1419.5" y1="779.50" x2="1629.5" y2="779.50" stroke="#A77600" stroke-width="7.0" stroke-linecap="round" stroke-dasharray="19.5 26"/>
</g>
<g filter="url(#al)" font-family="Liberation Serif, serif" font-size="61" fill="#000">
<text transform="translate(1653,269.00) scale(0.965,1)">0 min</text>
<text transform="translate(1653,327.78) scale(0.965,1)">30 min</text>
<text transform="translate(1653,386.56) scale(0.965,1)">60 min</text>
<text transform="translate(1653,445.34) scale(0.965,1)">90 min</text>
<text transform="translate(1653,504.12) scale(0.965,1)">120 min</text>
<text transform="translate(1653,562.90) scale(0.965,1)">150 min</text>
<text transform="translate(1653,621.68) scale(0.965,1)">180 min</text>
<text transform="translate(1653,680.46) scale(0.965,1)">210 min</text>
<text transform="translate(1653,739.24) scale(0.965,1)">240 min</text>
<text transform="translate(1653,798.02) scale(0.965,1)">270 min</text>
</g>
</svg>
</body></html>
